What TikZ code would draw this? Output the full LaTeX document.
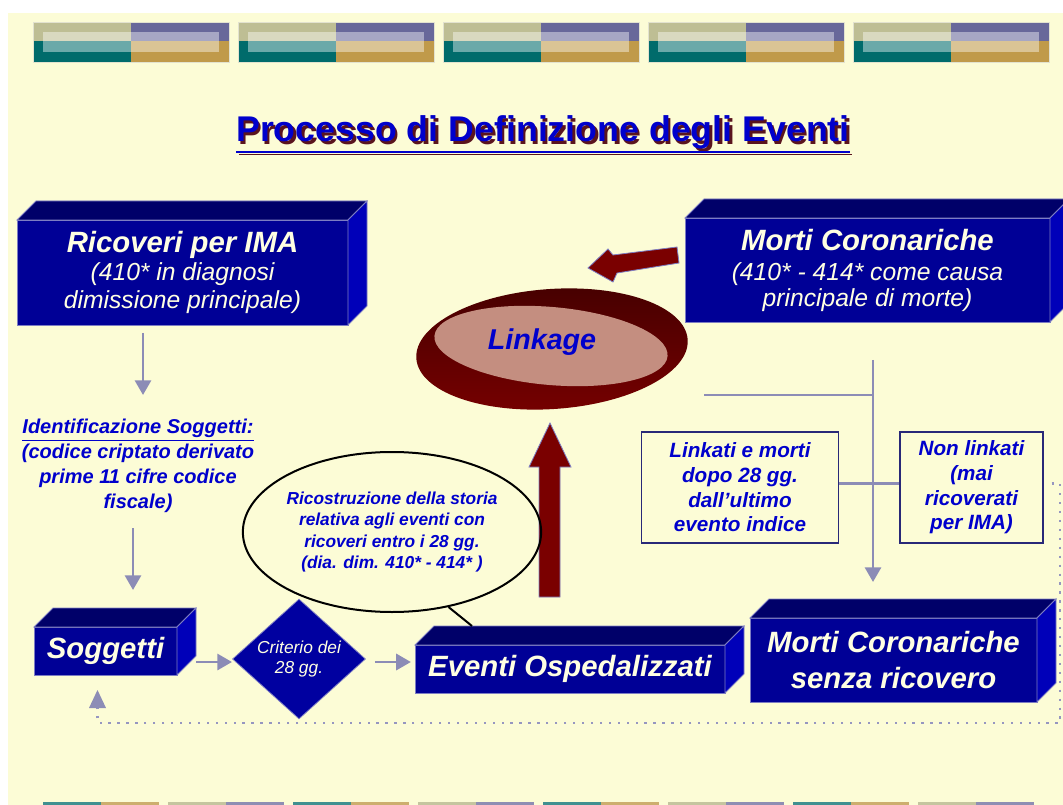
\documentclass[tikz,border=0pt]{standalone}
\usepackage{fontspec}
\setmainfont{Liberation Sans}
\usetikzlibrary{shapes.geometric,arrows.meta,positioning}

\definecolor{paper}{RGB}{252,252,214}
\definecolor{boxfront}{RGB}{0,0,150}
\definecolor{boxtop}{RGB}{0,0,105}
\definecolor{boxside}{RGB}{0,0,185}
\definecolor{boxedge}{RGB}{125,125,195}
\definecolor{boxtext}{RGB}{255,255,226}
\definecolor{boxnavy}{RGB}{40,40,120}
\definecolor{inkblue}{RGB}{0,0,204}
\definecolor{flowgray}{RGB}{140,140,182}
\definecolor{dotgray}{RGB}{150,150,192}
\definecolor{maroon}{RGB}{122,0,0}
\definecolor{rimdark}{RGB}{72,0,0}
\definecolor{rimlight}{RGB}{118,0,0}
\definecolor{linkface}{RGB}{196,142,128}
\definecolor{bandkhaki}{RGB}{190,190,148}
\definecolor{bandpurple}{RGB}{104,104,154}
\definecolor{bandteal}{RGB}{0,107,107}
\definecolor{bandgold}{RGB}{192,154,74}
\definecolor{titleshadow}{RGB}{90,20,30}

\newcommand\ruledtext[1]{\leavevmode\vtop{\hbox{#1}\kern1.4pt\hrule height 1.1pt}}
\newcommand\subfont{\mdseries\itshape\fontsize{18.5}{20.5}\selectfont}
\newcommand\shadowtitle[1]{\rlap{\kern1.9pt\raisebox{-1.9pt}{\textcolor{titleshadow}{\ruledtext{#1}}}}\ruledtext{#1}}

\tikzset{every picture/.style={line width=0.75pt}}
\tikzset{
  cubefront/.style={draw=boxedge, line width=0.6pt, fill=boxfront, text=boxtext, inner sep=0pt, outer sep=0pt, align=center, font=\bfseries\itshape\fontsize{22}{27}\selectfont},
  cubetop/.style={fill=boxtop, draw=boxedge, line width=0.6pt},
  cubeside/.style={fill=boxside, draw=boxedge, line width=0.6pt},
  notebox/.style={draw=boxnavy, line width=1.1pt, inner sep=0pt, align=center, text=inkblue, font=\bfseries\itshape\fontsize{15.5}{18.5}\selectfont},
  flowline/.style={draw=flowgray, line width=2.2pt},
  flowarrow/.style={flowline, -{Triangle[width=12pt,length=11pt]}},
  dotline/.style={draw=dotgray, line width=1.7pt, dash pattern=on 1.7pt off 5pt},
  blockarrow/.style={fill=maroon, draw=boxedge, line width=0.6pt},
  titlestyle/.style={anchor=base, inner sep=0pt, text=inkblue, font=\bfseries\fontsize{26.8}{30}\selectfont}
}

\begin{document}
\begin{tikzpicture}[x=0.75pt,y=0.75pt,yscale=-1,xscale=1]
\useasboundingbox (0,0) rectangle (1063,805);
\clip (0,0) rectangle (1063,805);

%Shape: Background
\fill[white] (0,0) rectangle (1063,805);
\fill[paper] (8,13) rectangle (1063,805);

%Shape: Top bands
\foreach \bx in {33,238,443,648,853}{
  \fill[bandkhaki] (\bx,22) rectangle ++(98,19);
  \fill[bandpurple] (\bx+98,22) rectangle ++(98,19);
  \fill[bandteal] (\bx,41) rectangle ++(98,21);
  \fill[bandgold] (\bx+98,41) rectangle ++(98,21);
  \fill[white, opacity=0.42] (\bx+10,32) rectangle ++(176,20);
  \draw[white!55!bandkhaki, line width=0.5pt] (\bx,22) rectangle ++(196,40);
}
%Shape: Bottom bands
\foreach \bx [count=\i] in {43,168,293,418,543,668,793,918}{
  \ifodd\i
    \fill[bandteal!75!white] (\bx,802) rectangle ++(58,3);
    \fill[bandgold!80!white] (\bx+58,802) rectangle ++(58,3);
  \else
    \fill[bandkhaki!90!white] (\bx,802) rectangle ++(58,3);
    \fill[bandpurple!75!white] (\bx+58,802) rectangle ++(58,3);
  \fi
}

% Title
\node[titlestyle] (title) at (543,142) {\shadowtitle{Processo di Definizione degli Eventi}};

% Cuboid fronts
\node[cubefront, minimum width=248.25pt, minimum height=78.75pt] (ricoveri) at (182.5,272.5)
  {Ricoveri per IMA\\[-6pt]\subfont (410* in diagnosi\\[-6.5pt]\subfont dimissione principale)};
\node[cubefront, minimum width=273.75pt, minimum height=78pt] (morti) at (867.5,270)
  {Morti Coronariche\\[-4.5pt]\subfont (410* - 414* come causa\\[-7.5pt]\subfont principale di morte)};
\node[cubefront, minimum width=107.25pt, minimum height=36pt] (soggetti) at (105.5,651) {Soggetti};
\node[cubefront, minimum width=232.5pt, minimum height=36pt] (eventi) at (570,669) {Eventi Ospedalizzati};
\node[cubefront, minimum width=215.25pt, minimum height=63pt] (senza) at (893.5,660) {Morti Coronariche\\senza ricovero};

% Cuboid top and side faces
\foreach \b in {ricoveri,morti,soggetti,eventi,senza}{
  \path[cubetop] (\b.north west) -- ++(19,-19) -- ([shift={(19,-19)}]\b.north east) -- (\b.north east) -- cycle;
  \path[cubeside] (\b.north east) -- ++(19,-19) -- ([shift={(19,-19)}]\b.south east) -- (\b.south east) -- cycle;
}

%Shape: Linkage disc
\path[top color=rimdark, bottom color=rimlight, shift={(552,349)}, rotate=-4] (0,0) ellipse [x radius=136, y radius=60];
\fill[linkface, shift={(551,346)}, rotate=5] (0,0) ellipse [x radius=117, y radius=39];
\node[text=inkblue, font=\bfseries\itshape\fontsize{21.5}{24}\selectfont] (linkage) at (542,342) {Linkage};

%Shape: Block arrows
\path[blockarrow] (588,268) -- (608,249) -- (613,255) -- (677,247) -- (679,263) -- (617,273) -- (613,282) -- cycle;
\path[blockarrow] (550,423) -- (571,467) -- (560,467) -- (560,597) -- (539,597) -- (539,467) -- (529,467) -- cycle;

% Text Node
\node[text=inkblue, align=center, font=\bfseries\itshape\fontsize{15}{18.75}\selectfont] (ident) at (138,466)
  {\ruledtext{Identificazione Soggetti:}\\(codice criptato derivato\\prime 11 cifre codice\\fiscale)};

% Diamond
\node[diamond, fill=boxfront!90!blue, draw=boxedge, line width=0.6pt, minimum width=99.75pt, minimum height=86.25pt, inner sep=0pt,
  text=boxtext, align=center, font=\itshape\fontsize{13}{15}\selectfont] (diamond) at (299,659) {Criterio dei\\28 gg.};

% Ellipse note
\node[ellipse, draw=black, line width=1.5pt, minimum width=187.5pt, minimum height=120pt, inner sep=0pt, align=center,
  text=inkblue, font=\bfseries\itshape\fontsize{13}{16}\selectfont] (recon) at (392,532)
  {Ricostruzione della storia\\relativa agli eventi con\\ricoveri entro i 28 gg.\\(dia. dim. 410* - 414* )};

% Note boxes
\node[notebox, minimum width=147.4pt, minimum height=83.25pt] (linkati) at (740,487.5)
  {Linkati e morti\\dopo 28 gg.\\dall’ultimo\\evento indice};
\node[notebox, minimum width=107.25pt, minimum height=83.25pt] (nonlink) at (971.5,487.5)
  {Non linkati\\(mai\\ricoverati\\per IMA)};

% Connectors
\draw[flowarrow] ([shift={(-39.5,8)}]ricoveri.south) -- ++(0,62);
\draw[flowarrow] ([shift={(27.5,-99)}]soggetti.north) -- ([shift={(27.5,-37)}]soggetti.north);
\draw[flowarrow] ([shift={(19,11)}]soggetti.east) -- ++(36,0);
\draw[flowarrow] ([shift={(9,3)}]diamond.east) -- ++(36,0);
\draw[line width=1.5pt] (recon.-53) -- ([shift={(57,-19)}]eventi.north west);
\coordinate (linkfork) at ([shift={(5.5,73)}]morti.south);
\coordinate (linkstub) at ([shift={(-169,0)}]linkfork);
\draw[flowarrow] ([shift={(5.5,38)}]morti.south) -- ([shift={(-20.5,-36)}]senza.north);
\draw[flowline] (linkstub) -- (linkfork);
\draw[flowline] ([shift={(0,-4)}]linkati.east) -- ([shift={(0,-4)}]nonlink.west);
\coordinate (dotcorner) at (1060,723);
\draw[dotline] ([shift={(8,-4)}]nonlink.east) -| (dotcorner) -| ([shift={(-8,17)}]soggetti.south);
\draw[draw=none, fill=flowgray] ([shift={(-8,15)}]soggetti.south) -- ([shift={(0.5,33)}]soggetti.south) -- ([shift={(-16.5,33)}]soggetti.south) -- cycle;

\end{tikzpicture}
\end{document}
